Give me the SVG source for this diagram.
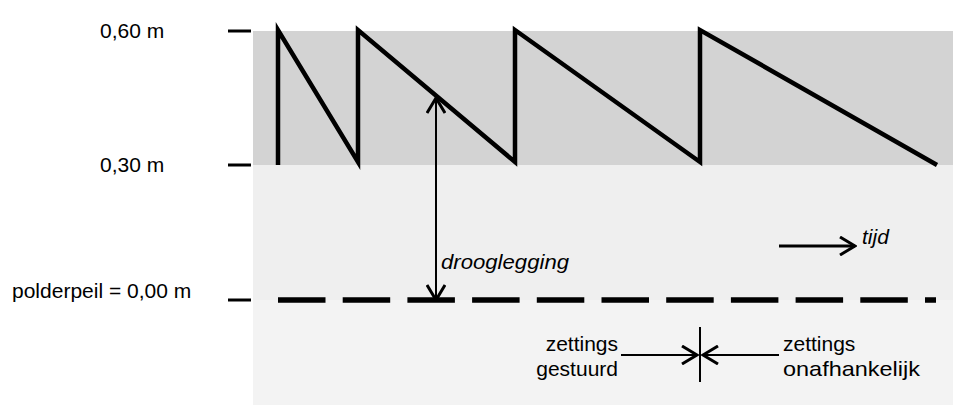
<svg xmlns="http://www.w3.org/2000/svg" width="953" height="405" viewBox="0 0 953 405">
  <defs>
    <marker id="open" viewBox="0 0 20 20" refX="18" refY="10" markerWidth="20" markerHeight="20" markerUnits="userSpaceOnUse" orient="auto-start-reverse">
      <path d="M3,1 L18,10 L3,19" fill="none" stroke="#000" stroke-width="3"/>
    </marker>
  </defs>
  <style>
    text { font-family: "Liberation Sans", Arial, sans-serif; font-size: 21px; fill: #000; }
    .it { font-style: italic; }
    .tick { stroke: #000; stroke-width: 3; }
    .saw { fill: none; stroke: #000; stroke-width: 4.5; stroke-linejoin: miter; }
    .arr { stroke: #000; stroke-width: 2; fill: none; }
    .arrb { stroke: #000; stroke-width: 3; fill: none; }
  </style>

  <!-- background bands -->
  <g id="bands">
    <rect x="253" y="165" width="700" height="135" fill="#efefef"/>
    <rect x="253" y="300" width="700" height="105" fill="#f3f3f3"/>
    <rect x="253" y="31" width="700" height="134" fill="#d3d3d3"/>
  </g>

  <!-- level ticks and labels -->
  <g id="level-060">
    <line class="tick" x1="228" y1="31" x2="251" y2="31"/>
    <text x="100" y="38">0,60 m</text>
  </g>
  <g id="level-030">
    <line class="tick" x1="228" y1="165" x2="251" y2="165"/>
    <text x="100" y="172">0,30 m</text>
  </g>
  <g id="level-polderpeil">
    <line class="tick" x1="228" y1="300" x2="251" y2="300"/>
    <text x="12" y="298">polderpeil = 0,00 m</text>
  </g>

  <!-- water level sawtooth -->
  <g id="sawtooth">
    <polyline class="saw" points="278,165 278,30 358,162 358,30 515,162 515,30 700,162 700,30 937,165"/>
  </g>

  <!-- polder level dashed line -->
  <g id="polderpeil-line">
    <line x1="278" y1="300" x2="936" y2="300" stroke="#000" stroke-width="5.5" stroke-dasharray="47.5 17.2"/>
  </g>

  <g id="connectors">
    <line class="arr" x1="436" y1="98" x2="436" y2="300" marker-start="url(#open)" marker-end="url(#open)"/>
    <line class="arrb" x1="779" y1="246" x2="855" y2="246" marker-end="url(#open)"/>
    <line class="arr" x1="621" y1="355" x2="697" y2="355" marker-end="url(#open)"/>
    <line class="arr" x1="779" y1="355" x2="703" y2="355" marker-end="url(#open)"/>
    <line class="arr" x1="700" y1="327" x2="700" y2="382"/>
  </g>

  <g id="label-drooglegging">
    <text class="it" x="441" y="269" textLength="128" lengthAdjust="spacingAndGlyphs">drooglegging</text>
  </g>
  <g id="label-tijd">
    <text class="it" x="862" y="244">tijd</text>
  </g>
  <g id="label-gestuurd">
    <text x="618" y="351" text-anchor="end">zettings</text>
    <text x="618" y="376" text-anchor="end">gestuurd</text>
  </g>
  <g id="label-onafhankelijk">
    <text x="783" y="351">zettings</text>
    <text x="783" y="376" textLength="137" lengthAdjust="spacingAndGlyphs">onafhankelijk</text>
  </g>
</svg>
